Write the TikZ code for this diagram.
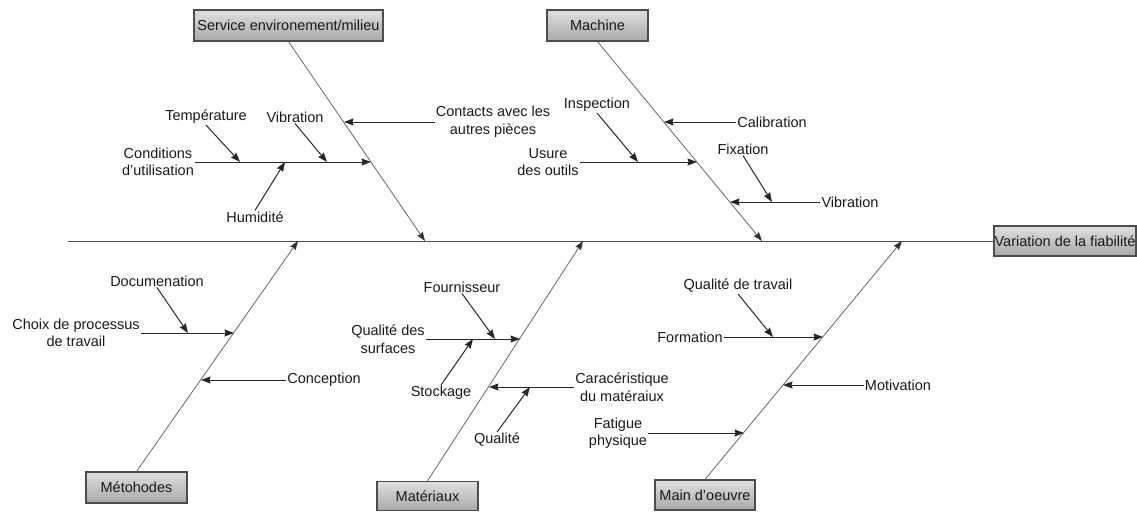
\documentclass[tikz,border=0pt]{standalone}
\usepackage{fontspec}
\setmainfont{Liberation Sans}
\usetikzlibrary{arrows.meta}
\begin{document}
\begin{tikzpicture}[x=1pt,y=-1pt,
  font=\fontsize{14.5}{17.5}\selectfont,
  lbl/.style={inner sep=1pt, align=center, text=black!90},
  catbox/.style={draw=black!70, line width=1.2pt, top color=gray!25, bottom color=gray!68,
    inner sep=0pt, minimum height=31pt, text=black!90},
  spine/.style={draw=black!70, line width=1pt},
  bone/.style={draw=black!60, line width=0.8pt, -{Stealth[length=9pt,width=6.5pt,inset=1pt,color=black!80]}},
  sub/.style={draw=black!85, line width=1pt, -{Stealth[length=9.5pt,width=7pt,inset=1pt]}}
]
\useasboundingbox (0,0) rectangle (1137,511);

% category boxes and effect box
\node[catbox, minimum width=189pt] (svc) at (288.5,25.5) {Service environement/milieu};
\node[catbox, minimum width=101pt] (mach) at (597.5,25.5) {Machine};
\node[catbox, minimum width=142pt, minimum height=30pt] (eff) at (1065,241) {Variation de la fiabilité};
\node[catbox, minimum width=101pt] (meth) at (136.5,487.5) {Métohodes};
\node[catbox, minimum width=101pt, minimum height=29pt] (mat) at (427.5,496) {Matériaux};
\node[catbox, minimum width=100pt, minimum height=30pt] (mo) at (705,495) {Main d'oeuvre};

% spine
\coordinate (tail) at (68,241);
\draw[spine] (tail) -- (eff.west);

% main bones meeting the spine
\coordinate (jsvc) at (425,241);
\coordinate (jmach) at (762,241);
\coordinate (jmeth) at (298,241);
\coordinate (jmat) at (583,241);
\coordinate (jmo) at (902,241);
\draw[bone] (svc.south) -- (jsvc);
\draw[bone] (mach.south) -- (jmach);
\draw[bone] (meth.north) -- (jmeth);
\draw[bone] (mat.north) -- (jmat);
\draw[bone] (mo.north) -- (jmo);

% ---- Service environement/milieu
\node[lbl] (cond) at (158,162) {Conditions\\d'utilisation};
\node[lbl] (temp) at (206,117) {Température};
\node[lbl] (vib1) at (295,117) {Vibration};
\node[lbl] (hum) at (255,217) {Humidité};
\node[lbl] (cont) at (493,122) {Contacts avec les\\autres pièces};
\coordinate (ks1) at (371,162);
\coordinate (ks2) at (344,122);
\coordinate (kt) at (240,162);
\coordinate (kv) at (327,162);
\coordinate (kh) at (285,162);
\draw[sub] (cond.east) -- (ks1);
\draw[sub] (temp.south) -- (kt);
\draw[sub] (vib1.south) -- (kv);
\draw[sub] (hum.north) -- (kh);
\draw[sub] (cont.west) -- (ks2);

% ---- Machine
\node[lbl] (insp) at (597,105) {Inspection};
\node[lbl] (usure) at (548,162) {Usure\\des outils};
\node[lbl] (calib) at (772,122) {Calibration};
\node[lbl] (fix) at (743,149) {Fixation};
\node[lbl] (vib2) at (850,202) {Vibration};
\coordinate (km1) at (697,162);
\coordinate (km2) at (664,122);
\coordinate (km3) at (730,202);
\coordinate (ki) at (638,162);
\coordinate (kf) at (772,202);
\draw[sub] (usure.east) -- (km1);
\draw[sub] (insp.south) -- (ki);
\draw[sub] (calib.west) -- (km2);
\draw[sub] (vib2.west) -- (km3);
\draw[sub] (fix.south) -- (kf);

% ---- Métohodes
\node[lbl] (doc) at (157,281) {Documenation};
\node[lbl] (choix) at (76,333) {Choix de processus\\de travail};
\node[lbl] (conc) at (324,380) {Conception};
\coordinate (kme1) at (234,333);
\coordinate (kme2) at (201,380);
\coordinate (kd) at (188,333);
\draw[sub] (choix.east) -- (kme1);
\draw[sub] (doc.south) -- (kd);
\draw[sub] (conc.west) -- (kme2);

% ---- Matériaux
\node[lbl] (four) at (462,287) {Fournisseur};
\node[lbl] (qds) at (388,339) {Qualité des\\surfaces};
\node[lbl] (stock) at (441,393) {Stockage};
\node[lbl] (cara) at (622,387) {Caracéristique\\du matéraiux};
\node[lbl] (qual) at (497,440) {Qualité};
\coordinate (kma1) at (520,339);
\coordinate (kma2) at (489,387);
\coordinate (kfo) at (495,339);
\coordinate (kst) at (473,339);
\coordinate (kq) at (530,387);
\draw[sub] (qds.east) -- (kma1);
\draw[sub] (four.south) -- (kfo);
\draw[sub] (stock.north) -- (kst);
\draw[sub] (cara.west) -- (kma2);
\draw[sub] (qual.north) -- (kq);

% ---- Main d'oeuvre
\node[lbl] (qdt) at (738,286) {Qualité de travail};
\node[lbl] (form) at (690,337) {Formation};
\node[lbl] (motiv) at (898,385) {Motivation};
\node[lbl] (fat) at (618,433) {Fatigue\\physique};
\coordinate (kmo1) at (823,337);
\coordinate (kmo2) at (783,385);
\coordinate (kmo3) at (744,433);
\coordinate (kqt) at (773,337);
\draw[sub] (form.east) -- (kmo1);
\draw[sub] (qdt.south) -- (kqt);
\draw[sub] (motiv.west) -- (kmo2);
\draw[sub] (fat.east) -- (kmo3);

\end{tikzpicture}
\end{document}
